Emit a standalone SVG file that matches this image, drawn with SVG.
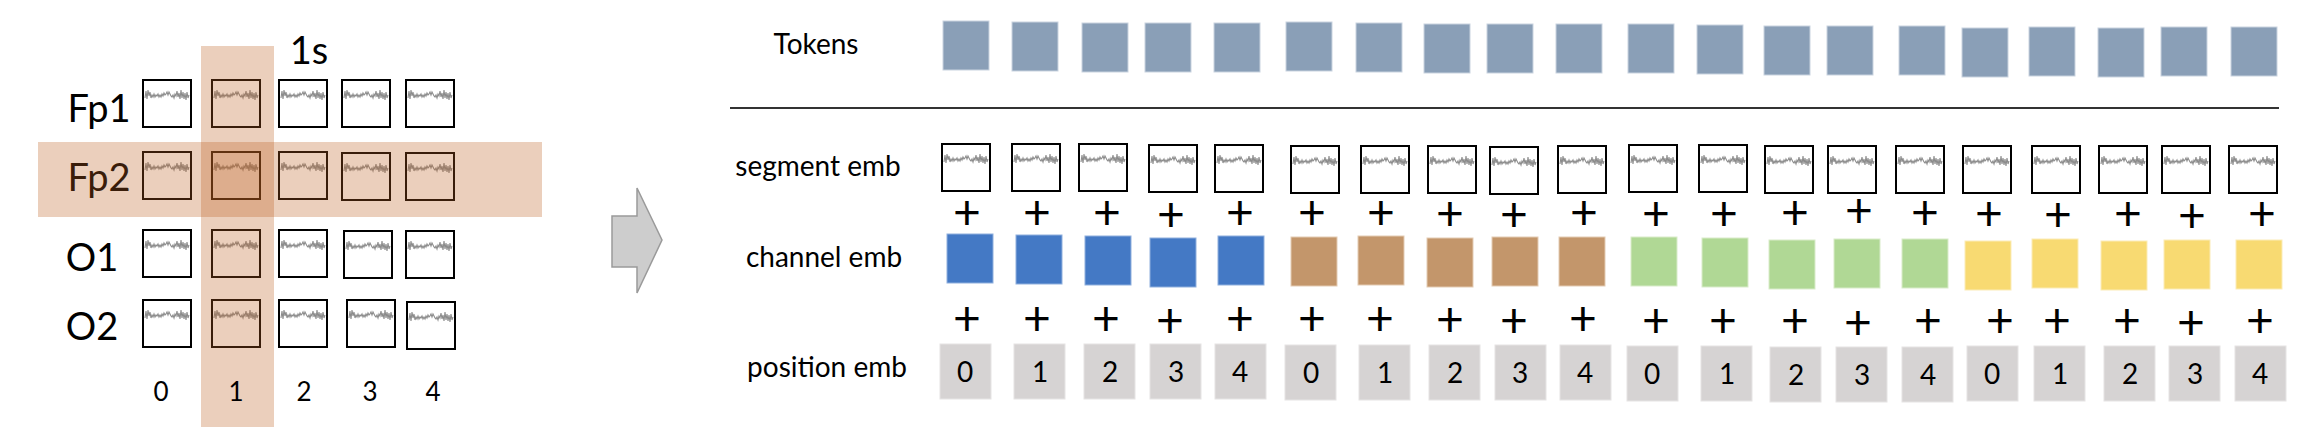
<svg xmlns="http://www.w3.org/2000/svg" width="2320" height="438" viewBox="0 0 2320 438">
<style>
text{font-family:Lato,"Liberation Sans",sans-serif;fill:#000}
.lbl{font-size:38px;text-anchor:middle}
.ax{font-size:26px;text-anchor:middle}
.rl{font-size:28px;text-anchor:middle}
.pl{font-size:48px;text-anchor:middle}
.pn{font-size:28px;text-anchor:middle}
.cell{fill:#fff;stroke:#000;stroke-width:2}
.tr{fill:none;stroke:#8c8c8c;stroke-width:1.1}
.hl{fill:#bc5f20;fill-opacity:0.3}
.tok{fill:#8a9fb7;stroke:#c9d3df;stroke-width:1}
.blue{fill:#4479c5;stroke:#8fb0dd;stroke-width:1}
.brown{fill:#c3966b;stroke:#e3cbb3;stroke-width:1}
.green{fill:#b0d895;stroke:#d9ecca;stroke-width:1}
.yellow{fill:#f8da72;stroke:#fbecb7;stroke-width:1}
.pos{fill:#d6d3d3;stroke:#e6e4e4;stroke-width:1}
</style>
<defs>
<path id="trace" class="tr" d="M0,3 L1,-4 L2,4 L3,-5 L4,1 L5,-3 L6,3 L7,0 L8,2 L9,-1 L10,2 L11,0 L12,1 L13,-1 L14,2 L15,0 L16,2 L17,-1 L18,1 L19,-2 L20,0 L21,-1 L22,-3 L23,0 L24,-3 L25,-1 L26,1 L27,2 L28,0 L29,3 L30,-1 L31,1 L32,-4 L33,2 L34,-2 L35,4 L36,-5 L37,3 L38,-3 L39,4 L40,-2 L41,5 L42,-3 L43,3 L44,0"/>
<g id="seg"><rect class="cell" x="0" y="0" width="48" height="47"/><use href="#trace" x="2" y="15"/></g>
</defs>

<g id="grid">
<g id="label-fp1"><text class="lbl" x="99" y="122">Fp1</text></g>
<g id="label-fp2"><text class="lbl" x="99" y="191">Fp2</text></g>
<g id="label-o1"><text class="lbl" x="92" y="271">O1</text></g>
<g id="label-o2"><text class="lbl" x="92" y="340">O2</text></g>
<g id="label-1s"><text class="lbl" x="309" y="64" style="font-size:38px">1s</text></g>
<g id="cells">
<use href="#seg" x="143" y="80"/><use href="#seg" x="212" y="80"/><use href="#seg" x="279" y="80"/><use href="#seg" x="342" y="80"/><use href="#seg" x="406" y="80"/>
<use href="#seg" x="143" y="152"/><use href="#seg" x="212" y="152"/><use href="#seg" x="279" y="152"/><use href="#seg" x="342" y="153"/><use href="#seg" x="406" y="153"/>
<use href="#seg" x="143" y="230"/><use href="#seg" x="212" y="230"/><use href="#seg" x="279" y="230"/><use href="#seg" x="344" y="231"/><use href="#seg" x="406" y="231"/>
<use href="#seg" x="143" y="300"/><use href="#seg" x="212" y="300"/><use href="#seg" x="279" y="300"/><use href="#seg" x="347" y="300"/><use href="#seg" x="407" y="302"/>
</g>
<g id="highlight-row"><rect class="hl" x="38" y="142" width="504" height="75"/></g>
<g id="highlight-col"><rect class="hl" x="201" y="46" width="73" height="381"/></g>
<g id="axis">
<text class="ax" x="161" y="401">0</text><text class="ax" x="236" y="401">1</text><text class="ax" x="304" y="401">2</text><text class="ax" x="370" y="401">3</text><text class="ax" x="433" y="401">4</text>
</g>
</g>

<g id="connectors">
<polygon id="arrow" points="612,216 637,216 637,188 662,240 637,293 637,267 612,267" fill="#cdcdcd" stroke="#9a9a9a" stroke-width="1.5"/>
</g>

<g id="tokens">
<text class="rl" x="816" y="54">Tokens</text>
<rect class="tok" x="943" y="21" width="46" height="49"/>
<rect class="tok" x="1012" y="22" width="46" height="49"/>
<rect class="tok" x="1082" y="23" width="46" height="49"/>
<rect class="tok" x="1145" y="23" width="46" height="49"/>
<rect class="tok" x="1214" y="23" width="46" height="49"/>
<rect class="tok" x="1286" y="22" width="46" height="49"/>
<rect class="tok" x="1356" y="23" width="46" height="49"/>
<rect class="tok" x="1424" y="24" width="46" height="49"/>
<rect class="tok" x="1487" y="24" width="46" height="49"/>
<rect class="tok" x="1556" y="24" width="46" height="49"/>
<rect class="tok" x="1628" y="24" width="46" height="49"/>
<rect class="tok" x="1697" y="25" width="46" height="49"/>
<rect class="tok" x="1764" y="26" width="46" height="49"/>
<rect class="tok" x="1827" y="26" width="46" height="49"/>
<rect class="tok" x="1899" y="26" width="46" height="49"/>
<rect class="tok" x="1962" y="28" width="46" height="49"/>
<rect class="tok" x="2029" y="27" width="46" height="49"/>
<rect class="tok" x="2098" y="28" width="46" height="49"/>
<rect class="tok" x="2161" y="27" width="46" height="49"/>
<rect class="tok" x="2231" y="27" width="46" height="49"/>
</g>

<g id="divider"><line x1="730" y1="108" x2="2279" y2="108" stroke="#333" stroke-width="2"/></g>

<g id="segment-emb">
<text class="rl" x="818" y="176">segment emb</text>
<use href="#seg" x="942" y="144"/><use href="#seg" x="1012" y="144"/><use href="#seg" x="1079" y="144"/><use href="#seg" x="1149" y="145"/><use href="#seg" x="1215" y="145"/>
<use href="#seg" x="1291" y="146"/><use href="#seg" x="1361" y="146"/><use href="#seg" x="1428" y="146"/><use href="#seg" x="1490" y="147"/><use href="#seg" x="1558" y="146"/>
<use href="#seg" x="1629" y="145"/><use href="#seg" x="1699" y="145"/><use href="#seg" x="1765" y="146"/><use href="#seg" x="1828" y="146"/><use href="#seg" x="1896" y="146"/>
<use href="#seg" x="1963" y="146"/><use href="#seg" x="2032" y="146"/><use href="#seg" x="2099" y="146"/><use href="#seg" x="2162" y="146"/><use href="#seg" x="2229" y="146"/>
</g>

<g id="plus-row1">
<text class="pl" x="967" y="229">+</text><text class="pl" x="1037" y="229">+</text><text class="pl" x="1107" y="229">+</text><text class="pl" x="1171" y="231">+</text><text class="pl" x="1240" y="229">+</text>
<text class="pl" x="1312" y="229">+</text><text class="pl" x="1381" y="229">+</text><text class="pl" x="1450" y="230">+</text><text class="pl" x="1514" y="231">+</text><text class="pl" x="1584" y="229">+</text>
<text class="pl" x="1656" y="230">+</text><text class="pl" x="1724" y="230">+</text><text class="pl" x="1795" y="229">+</text><text class="pl" x="1859" y="227">+</text><text class="pl" x="1925" y="229">+</text>
<text class="pl" x="1989" y="230">+</text><text class="pl" x="2058" y="231">+</text><text class="pl" x="2128" y="230">+</text><text class="pl" x="2192" y="232">+</text><text class="pl" x="2262" y="230">+</text>
</g>

<g id="channel-emb">
<text class="rl" x="824" y="267">channel emb</text>
<rect class="blue" x="947" y="234" width="46" height="49"/>
<rect class="blue" x="1016" y="235" width="46" height="49"/>
<rect class="blue" x="1085" y="236" width="46" height="49"/>
<rect class="blue" x="1150" y="238" width="46" height="49"/>
<rect class="blue" x="1218" y="236" width="46" height="49"/>
<rect class="brown" x="1291" y="237" width="46" height="49"/>
<rect class="brown" x="1358" y="236" width="46" height="49"/>
<rect class="brown" x="1427" y="238" width="46" height="49"/>
<rect class="brown" x="1492" y="237" width="46" height="49"/>
<rect class="brown" x="1559" y="237" width="46" height="49"/>
<rect class="green" x="1631" y="237" width="46" height="49"/>
<rect class="green" x="1702" y="238" width="46" height="49"/>
<rect class="green" x="1769" y="240" width="46" height="49"/>
<rect class="green" x="1834" y="239" width="46" height="49"/>
<rect class="green" x="1902" y="239" width="46" height="49"/>
<rect class="yellow" x="1965" y="241" width="46" height="49"/>
<rect class="yellow" x="2032" y="239" width="46" height="49"/>
<rect class="yellow" x="2101" y="241" width="46" height="49"/>
<rect class="yellow" x="2164" y="240" width="46" height="49"/>
<rect class="yellow" x="2236" y="240" width="46" height="49"/>
</g>

<g id="plus-row2">
<text class="pl" x="967" y="335">+</text><text class="pl" x="1037" y="335">+</text><text class="pl" x="1106" y="335">+</text><text class="pl" x="1170" y="337">+</text><text class="pl" x="1240" y="335">+</text>
<text class="pl" x="1312" y="335">+</text><text class="pl" x="1380" y="335">+</text><text class="pl" x="1450" y="336">+</text><text class="pl" x="1514" y="337">+</text><text class="pl" x="1583" y="335">+</text>
<text class="pl" x="1656" y="337">+</text><text class="pl" x="1723" y="337">+</text><text class="pl" x="1795" y="337">+</text><text class="pl" x="1858" y="339">+</text><text class="pl" x="1928" y="337">+</text>
<text class="pl" x="2000" y="337">+</text><text class="pl" x="2057" y="337">+</text><text class="pl" x="2127" y="337">+</text><text class="pl" x="2191" y="339">+</text><text class="pl" x="2260" y="337">+</text>
</g>

<g id="position-emb">
<text class="rl" x="827" y="377">position emb</text>
<rect class="pos" x="940" y="344" width="51" height="55"/><text class="pn" x="965" y="382">0</text>
<rect class="pos" x="1014" y="344" width="51" height="55"/><text class="pn" x="1040" y="382">1</text>
<rect class="pos" x="1084" y="344" width="51" height="55"/><text class="pn" x="1110" y="382">2</text>
<rect class="pos" x="1150" y="344" width="51" height="55"/><text class="pn" x="1176" y="382">3</text>
<rect class="pos" x="1215" y="344" width="51" height="55"/><text class="pn" x="1240" y="382">4</text>
<rect class="pos" x="1285" y="345" width="51" height="55"/><text class="pn" x="1311" y="383">0</text>
<rect class="pos" x="1359" y="345" width="51" height="55"/><text class="pn" x="1385" y="383">1</text>
<rect class="pos" x="1429" y="345" width="51" height="55"/><text class="pn" x="1455" y="383">2</text>
<rect class="pos" x="1495" y="345" width="51" height="55"/><text class="pn" x="1520" y="383">3</text>
<rect class="pos" x="1560" y="345" width="51" height="55"/><text class="pn" x="1585" y="383">4</text>
<rect class="pos" x="1627" y="346" width="51" height="55"/><text class="pn" x="1652" y="384">0</text>
<rect class="pos" x="1701" y="346" width="51" height="55"/><text class="pn" x="1727" y="384">1</text>
<rect class="pos" x="1770" y="347" width="51" height="55"/><text class="pn" x="1796" y="385">2</text>
<rect class="pos" x="1836" y="347" width="51" height="55"/><text class="pn" x="1862" y="385">3</text>
<rect class="pos" x="1902" y="347" width="51" height="55"/><text class="pn" x="1928" y="385">4</text>
<rect class="pos" x="1967" y="346" width="51" height="55"/><text class="pn" x="1992" y="384">0</text>
<rect class="pos" x="2034" y="346" width="51" height="55"/><text class="pn" x="2060" y="384">1</text>
<rect class="pos" x="2104" y="346" width="51" height="55"/><text class="pn" x="2130" y="384">2</text>
<rect class="pos" x="2169" y="346" width="51" height="55"/><text class="pn" x="2195" y="384">3</text>
<rect class="pos" x="2235" y="346" width="51" height="55"/><text class="pn" x="2260" y="384">4</text>
</g>
</svg>
